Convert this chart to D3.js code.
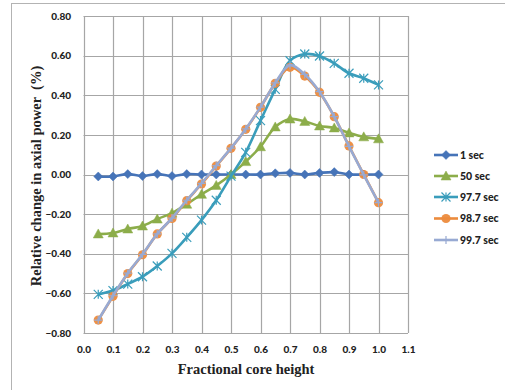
<!DOCTYPE html>
<html>
<head>
<meta charset="utf-8">
<script src="https://cdn.jsdelivr.net/npm/d3@7"></script>
<style>
  html, body { margin: 0; padding: 0; background: #fff; }
  svg { display: block; }
</style>
</head>
<body>
<svg id="chart" width="505" height="390"></svg>
<script>
// Fractional core height positions (sample points along the core)
const heights = [0.05, 0.10, 0.15, 0.20, 0.25, 0.30, 0.35, 0.40, 0.45, 0.50,
                 0.55, 0.60, 0.65, 0.70, 0.75, 0.80, 0.85, 0.90, 0.95, 1.00];

// Relative change in axial power (%) at each time
const sec1   = [-0.010, -0.010, 0.002, -0.008, 0.002, -0.008, 0.002, 0.000, 0.000, 0.000,
                 0.000, 0.000, 0.006, 0.008, 0.000, 0.008, 0.012, 0.000, 0.000, 0.000];
const sec50  = [-0.300, -0.295, -0.275, -0.260, -0.225, -0.195, -0.150, -0.100, -0.055, 0.000,
                 0.065, 0.140, 0.240, 0.280, 0.268, 0.245, 0.235, 0.210, 0.190, 0.180];
const sec977 = [-0.605, -0.586, -0.553, -0.516, -0.462, -0.398, -0.317, -0.230, -0.130, -0.008,
                 0.112, 0.272, 0.430, 0.574, 0.608, 0.598, 0.561, 0.511, 0.486, 0.452];
const sec987 = [-0.735, -0.615, -0.500, -0.405, -0.300, -0.222, -0.132, -0.048, 0.043, 0.132,
                 0.228, 0.339, 0.460, 0.541, 0.497, 0.415, 0.292, 0.144, 0.000, -0.142];
const sec997 = [-0.735, -0.612, -0.498, -0.403, -0.300, -0.220, -0.130, -0.045, 0.045, 0.133,
                 0.230, 0.340, 0.462, 0.552, 0.505, 0.418, 0.292, 0.142, -0.002, -0.142];

const seriesNames = ["1 sec", "50 sec", "97.7 sec", "98.7 sec", "99.7 sec"];
const seriesData  = [sec1, sec50, sec977, sec987, sec997];
const seriesColors = ["#4674b8", "#8cad4a", "#3a9dbb", "#ec8b3d", "#98aad3"];
const seriesMarkers = ["diamond", "triangle", "asterisk", "circle", "plus"];

const xTicks = [0.0, 0.1, 0.2, 0.3, 0.4, 0.5, 0.6, 0.7, 0.8, 0.9, 1.0, 1.1];
const yTicks = [-0.8, -0.6, -0.4, -0.2, 0.0, 0.2, 0.4, 0.6, 0.8];

const svg = d3.select("#chart");

// Outer chart frame
svg.append("rect")
  .attr("x", 11.5).attr("y", 3.5)
  .attr("width", 520).attr("height", 420)
  .attr("fill", "#fff").attr("stroke", "#b3b3b3").attr("stroke-width", 1);

const x = d3.scaleLinear().domain([0, 1.1]).range([83.5, 408]);
const y = d3.scaleLinear().domain([-0.8, 0.8]).range([333, 16]);

// Grid
const grid = svg.append("g");
grid.selectAll("line.v").data(xTicks).join("line")
  .attr("x1", d => Math.round(x(d)) + 0.5).attr("x2", d => Math.round(x(d)) + 0.5)
  .attr("y1", y(0.8)).attr("y2", y(-0.8))
  .attr("stroke", "#a6a6a6").attr("stroke-width", 1.2);
grid.selectAll("line.h").data(yTicks).join("line")
  .attr("y1", d => Math.round(y(d)) + 0.5).attr("y2", d => Math.round(y(d)) + 0.5)
  .attr("x1", x(0)).attr("x2", x(1.1))
  .attr("stroke", "#a6a6a6").attr("stroke-width", 1.2);

// Axis tick labels
const tickFont = "Lato, 'Open Sans', sans-serif";
const xAxis = d3.axisBottom(x).tickValues(xTicks).tickFormat(d3.format(".1f")).tickSize(0).tickPadding(0);
svg.append("g").attr("transform", `translate(0,${y(-0.8) + 13})`).call(xAxis)
  .call(g => g.select(".domain").remove())
  .selectAll("text")
  .attr("font-family", tickFont).attr("font-weight", "900").attr("font-size", "10px")
  .attr("fill", "#222");

const yAxis = d3.axisLeft(y).tickValues(yTicks).tickFormat(d3.format(".2f")).tickSize(0).tickPadding(0);
svg.append("g").attr("transform", `translate(71,0)`).call(yAxis)
  .call(g => g.select(".domain").remove())
  .selectAll("text")
  .attr("font-family", tickFont).attr("font-weight", "900").attr("font-size", "10px")
  .attr("fill", "#222");

// Axis titles
svg.append("text")
  .attr("x", 246).attr("y", 374)
  .attr("text-anchor", "middle")
  .attr("font-family", "'Liberation Serif', 'DejaVu Serif', serif")
  .attr("font-weight", "bold").attr("font-size", "14.5px").attr("fill", "#222")
  .text("Fractional core height");

svg.append("text")
  .attr("transform", "translate(41,176) rotate(-90)")
  .attr("text-anchor", "middle")
  .attr("font-family", "'Liberation Serif', 'DejaVu Serif', serif")
  .attr("font-weight", "bold").attr("font-size", "14.5px").attr("fill", "#222")
  .attr("xml:space", "preserve")
  .text("Relative change in axial power  (%)");

// Marker drawing
function drawMarker(g, type, color, cx, cy) {
  if (type === "diamond") {
    g.append("path").attr("d", `M${cx},${cy - 4.5}L${cx + 4.5},${cy}L${cx},${cy + 4.5}L${cx - 4.5},${cy}Z`)
      .attr("fill", color).attr("stroke", color).attr("stroke-width", 0.5);
  } else if (type === "triangle") {
    g.append("path").attr("d", `M${cx},${cy - 5}L${cx + 5},${cy + 4}L${cx - 5},${cy + 4}Z`)
      .attr("fill", color).attr("stroke", color).attr("stroke-width", 0.5);
  } else if (type === "asterisk") {
    const r = 4.5;
    g.append("path")
      .attr("d", `M${cx - r},${cy - r}L${cx + r},${cy + r}M${cx - r},${cy + r}L${cx + r},${cy - r}M${cx},${cy - r}L${cx},${cy + r}`)
      .attr("fill", "none").attr("stroke", color).attr("stroke-width", 1.2);
  } else if (type === "circle") {
    g.append("circle").attr("cx", cx).attr("cy", cy).attr("r", 4.6)
      .attr("fill", color).attr("opacity", 0.95);
  } else if (type === "plus") {
    g.append("path")
      .attr("d", `M${cx - 4},${cy}L${cx + 4},${cy}M${cx},${cy - 4}L${cx},${cy + 4}`)
      .attr("fill", "none").attr("stroke", color).attr("stroke-width", 1.2);
  }
}

const line = d3.line()
  .x(d => x(d[0])).y(d => y(d[1]))
  .curve(d3.curveCatmullRom.alpha(0.5));

const plot = svg.append("g");
seriesData.forEach((vals, i) => {
  const pts = heights.map((h, j) => [h, vals[j]]);
  const g = plot.append("g");
  g.append("path").datum(pts)
    .attr("d", line)
    .attr("fill", "none")
    .attr("stroke", seriesColors[i])
    .attr("stroke-width", 2.6)
    .attr("stroke-linejoin", "round");
  pts.forEach(p => drawMarker(g, seriesMarkers[i], seriesColors[i], x(p[0]), y(p[1])));
});

// Legend
const legendY = [155, 176, 197, 218.5, 240];
const legend = svg.append("g");
seriesNames.forEach((name, i) => {
  const g = legend.append("g");
  g.append("line")
    .attr("x1", 434).attr("x2", 458)
    .attr("y1", legendY[i]).attr("y2", legendY[i])
    .attr("stroke", seriesColors[i]).attr("stroke-width", 2.6);
  drawMarker(g, seriesMarkers[i], seriesColors[i], 446, legendY[i]);
  g.append("text")
    .attr("x", 460).attr("y", legendY[i]).attr("dy", "0.35em")
    .attr("font-family", tickFont).attr("font-weight", "900").attr("font-size", "10.5px")
    .attr("fill", "#222")
    .text(name);
});
</script>
</body>
</html>
